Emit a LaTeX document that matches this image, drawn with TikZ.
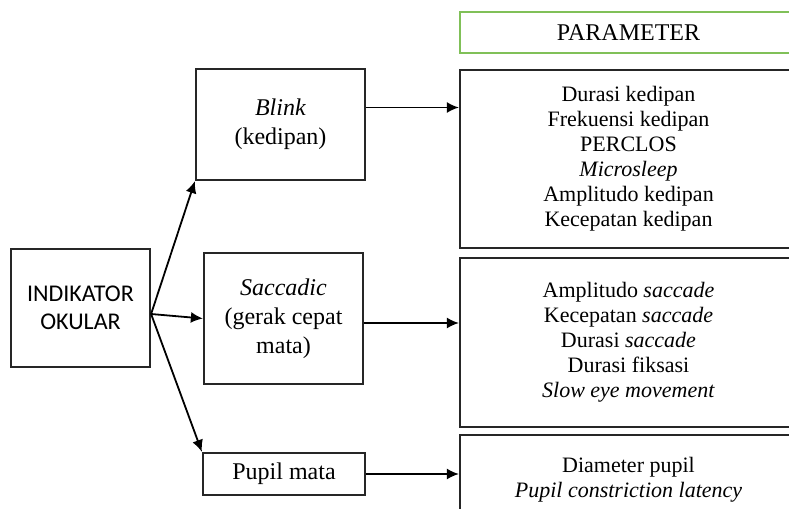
\documentclass[tikz,border=0pt]{standalone}
\usepackage{fontspec}
\setmainfont{Liberation Serif}
\newfontfamily\okularfont{Carlito}
\usetikzlibrary{arrows.meta}
\definecolor{paramgreen}{RGB}{128,192,88}
\tikzset{
  box/.style={draw=black!85, line width=1.1pt, align=center, inner sep=0pt,
    font=\fontsize{12}{14.5}\selectfont},
  parbox/.style={box, minimum width=168.5pt, font=\fontsize{11}{12.5}\selectfont},
  arr/.style={-{Latex[length=6pt,width=5.5pt]}, line width=0.9pt}
}
\begin{document}
\begin{tikzpicture}[x=0.5pt,y=-0.5pt]
  % the frame
  \useasboundingbox (0,0) rectangle (789,509);
  \clip (0,0) rectangle (789,509);

  % the indicator
  \node[box, minimum width=69.5pt, minimum height=59pt,
    font=\okularfont\fontsize{12}{14}\selectfont] (ind) at (80.5,308) {INDIKATOR\\OKULAR};

  % the three kinds
  \node[box, minimum width=84.5pt, minimum height=55.5pt] (blink) at (280.5,124.5)
    {\textit{Blink}\\(kedipan)};
  \node[box, minimum width=79.5pt, minimum height=65.5pt] (sacc) at (283.5,318.5)
    {\textit{Saccadic}\\(gerak cepat\\mata)};
  \node[box, minimum width=81pt, minimum height=21pt] (pupil) at (284,474) {Pupil mata};

  % the parameters
  \node[parbox, draw=paramgreen, minimum height=20.5pt, font=\fontsize{12}{14}\selectfont]
    (param) at (628.5,32.5) {PARAMETER};
  \node[parbox, minimum height=89pt] (parblink) at (628.5,159)
    {Durasi kedipan\\Frekuensi kedipan\\PERCLOS\\\textit{Microsleep}\\Amplitudo kedipan\\Kecepatan kedipan};
  \node[parbox, minimum height=84.5pt] (parsacc) at (628.5,342.5)
    {Amplitudo \textit{saccade}\\Kecepatan \textit{saccade}\\Durasi \textit{saccade}\\Durasi fiksasi\\\textit{Slow eye movement}};
  \node[parbox, minimum height=45pt] (parpupil) at (628.5,480)
    {Diameter pupil\\\textit{Pupil constriction latency}};

  % arrows
  \coordinate (fan) at ([yshift=-3pt]ind.east);
  \draw[arr] (fan) -- (blink.south west);
  \draw[arr] (fan) -- (sacc.west);
  \draw[arr] (fan) -- (pupil.north west);
  \draw[arr] ([yshift=8.5pt]blink.east) -- ([yshift=8.5pt]blink.east -| parblink.west);
  \draw[arr] ([yshift=-2.25pt]sacc.east) -- ([yshift=-2.25pt]sacc.east -| parsacc.west);
  \draw[arr] (pupil.east) -- (pupil.east -| parpupil.west);
\end{tikzpicture}
\end{document}
